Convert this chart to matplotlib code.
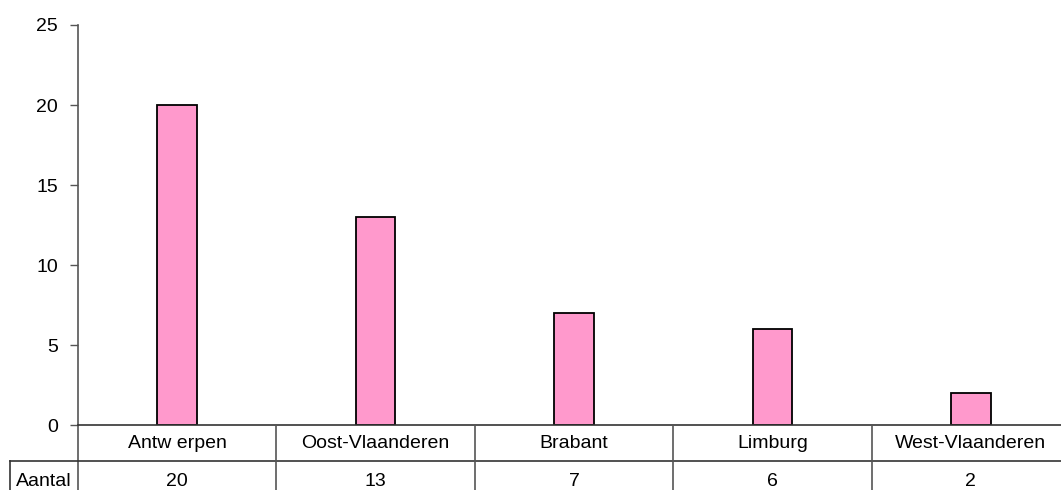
import matplotlib
matplotlib.use('Agg')
import matplotlib.pyplot as plt
from matplotlib.transforms import blended_transform_factory

# Gegevens
provincies = ['Antw erpen', 'Oost-Vlaanderen', 'Brabant', 'Limburg', 'West-Vlaanderen']
aantal = [20, 13, 7, 6, 2]
reeks_naam = 'Aantal'

plt.rcParams['font.family'] = ['Liberation Sans', 'DejaVu Sans']

W, H = 1061, 490
FS = 14
fig = plt.figure(figsize=(W / 100, H / 100), dpi=100)
ax = fig.add_axes([78 / W, (H - 425) / H, (1070 - 78) / W, 400 / H])

x = range(len(provincies))
ax.bar(x, aantal, width=0.2, color='#FF99CC', edgecolor='black', linewidth=1.3, zorder=3)

ax.set_xlim(-0.5, len(provincies) - 0.5)
ax.set_ylim(0, 25)
ax.set_yticks([0, 5, 10, 15, 20, 25])
ax.tick_params(axis='y', direction='out', length=5.8, width=1, color='#555555',
               labelsize=FS, pad=8.6)
ax.set_xticks([])
for s in ['top', 'right', 'bottom', 'left']:
    ax.spines[s].set_visible(False)


def px_x(p):
    return p / W


def px_y(p):
    return 1 - p / H


lijn = dict(color='#333333', linewidth=1.2, transform=fig.transFigure)
# linker as, doorlopend in de tabel
fig.add_artist(plt.Line2D([px_x(78), px_x(78)], [px_y(25), px_y(H)], color='#555555',
                          linewidth=1.2, transform=fig.transFigure))
# tabel onder de grafiek
fig.add_artist(plt.Line2D([px_x(78), 1], [px_y(425), px_y(425)], **lijn))
fig.add_artist(plt.Line2D([px_x(10), 1], [px_y(461), px_y(461)], **lijn))
fig.add_artist(plt.Line2D([px_x(10), px_x(10)], [px_y(461), px_y(H)], **lijn))

tr = blended_transform_factory(ax.transData, fig.transFigure)
for i in range(len(provincies) - 1):
    fig.add_artist(plt.Line2D([i + 0.5, i + 0.5], [px_y(425), px_y(H)], color='#555555',
                              linewidth=1.2, transform=tr))

for i, (naam, n) in enumerate(zip(provincies, aantal)):
    fig.text(i, px_y(448), naam, transform=tr, ha='center', va='baseline', fontsize=FS)
    fig.text(i, px_y(486), str(n), transform=tr, ha='center', va='baseline', fontsize=FS)

fig.text(px_x(44), px_y(486), reeks_naam, ha='center', va='baseline', fontsize=FS)

fig.savefig('out.png', dpi=100)
